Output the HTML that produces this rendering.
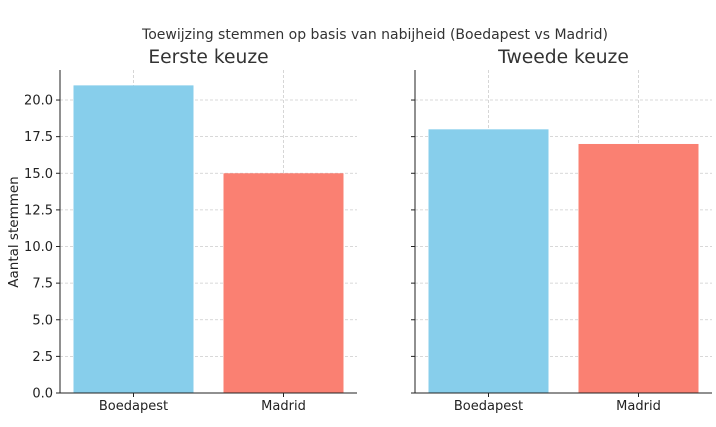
<!DOCTYPE html>
<html><head><meta charset="utf-8">
<style>
html,body{margin:0;padding:0;background:#fff;}
svg{display:block;font-family:"DejaVu Sans","Liberation Sans",sans-serif;}
</style></head>
<body>
<svg id="chart" width="716" height="427" viewBox="0 0 716 427">
<text x="375" y="39" text-anchor="middle" font-size="14" fill="#333">Toewijzing stemmen op basis van nabijheid (Boedapest vs Madrid)</text>
<text x="18" y="232" text-anchor="middle" font-size="13.5" fill="#222" transform="rotate(-90 18 232)">Aantal stemmen</text>
<g id="panels"></g>
</svg>
<script>
const categories = ["Boedapest", "Madrid"];
const firstChoice = [21, 15];
const secondChoice = [18, 17];
const panelTitles = ["Eerste keuze", "Tweede keuze"];
const yTicks = [0, 2.5, 5, 7.5, 10, 12.5, 15, 17.5, 20];
const yTickLabels = ["0.0","2.5","5.0","7.5","10.0","12.5","15.0","17.5","20.0"];
const colors = ["#87CEEB", "#FA8072"];

const NS = "http://www.w3.org/2000/svg";
const g = document.getElementById("panels");
const y0 = 393, yTop = 70;
const yMax = Math.max(...firstChoice, ...secondChoice) * 1.05;
function yScale(v){ return y0 - v / yMax * (y0 - yTop); }
function mk(tag, attrs, parent){ const e=document.createElementNS(NS,tag); for(const k in attrs) e.setAttribute(k,attrs[k]); (parent||g).appendChild(e); return e; }

[[60, firstChoice], [415, secondChoice]].forEach(([left, vals], pi) => {
  const width = 297;
  const xScale = i => left + (i + 0.49) / 1.98 * width;
  const bw = 0.8 / 1.98 * width;
  const pg = mk("g", {});
  
  
  yTicks.forEach(t => {
    const l = mk("line", {x1:left, x2:left+width, y1:yScale(t), y2:yScale(t), stroke:"#ccc", "stroke-width":0.8, "stroke-dasharray":"3,2"}, pg);
    
    
  });
  categories.forEach((c, i) => {
    const gl = mk("line", {x1:xScale(i), x2:xScale(i), y1:yTop, y2:y0, stroke:"#ccc", "stroke-width":0.8, "stroke-dasharray":"3,2"}, pg);
    
    
  });
  vals.forEach((v, i) => {
    const r = mk("rect", {x:xScale(i)-bw/2, y:yScale(v), width:bw, height:y0-yScale(v), fill:colors[i]}, pg);
    
    
    const tk = mk("line", {x1:xScale(i), x2:xScale(i), y1:y0, y2:y0+4, stroke:"#222"}, pg);
    
    
    const tl = mk("text", {x:xScale(i), y:y0+17, "text-anchor":"middle", "font-size":"13", fill:"#222"}, pg);
    tl.textContent = categories[i];
    
    
  });
  yTicks.forEach((t, k) => {
    const tk = mk("line", {x1:left-4, x2:left, y1:yScale(t), y2:yScale(t), stroke:"#222"}, pg);
    
    
    if (pi === 0) {
      const tl = mk("text", {x:left-7, y:yScale(t)+4.5, "text-anchor":"end", "font-size":"13", fill:"#222"}, pg);
      tl.textContent = yTickLabels[k];
      
      
    }
  });
  const ax = mk("line", {x1:left, x2:left, y1:yTop, y2:y0, stroke:"#222", "stroke-width":1}, pg);
  
  
  const bx = mk("line", {x1:left, x2:left+width, y1:y0, y2:y0, stroke:"#222", "stroke-width":1}, pg);
  
  
  const tt = mk("text", {x:left+width/2, y:63, "text-anchor":"middle", "font-size":"18.7", fill:"#333"}, pg);
  tt.textContent = panelTitles[pi];
  
  
});
</script>
</body></html>
